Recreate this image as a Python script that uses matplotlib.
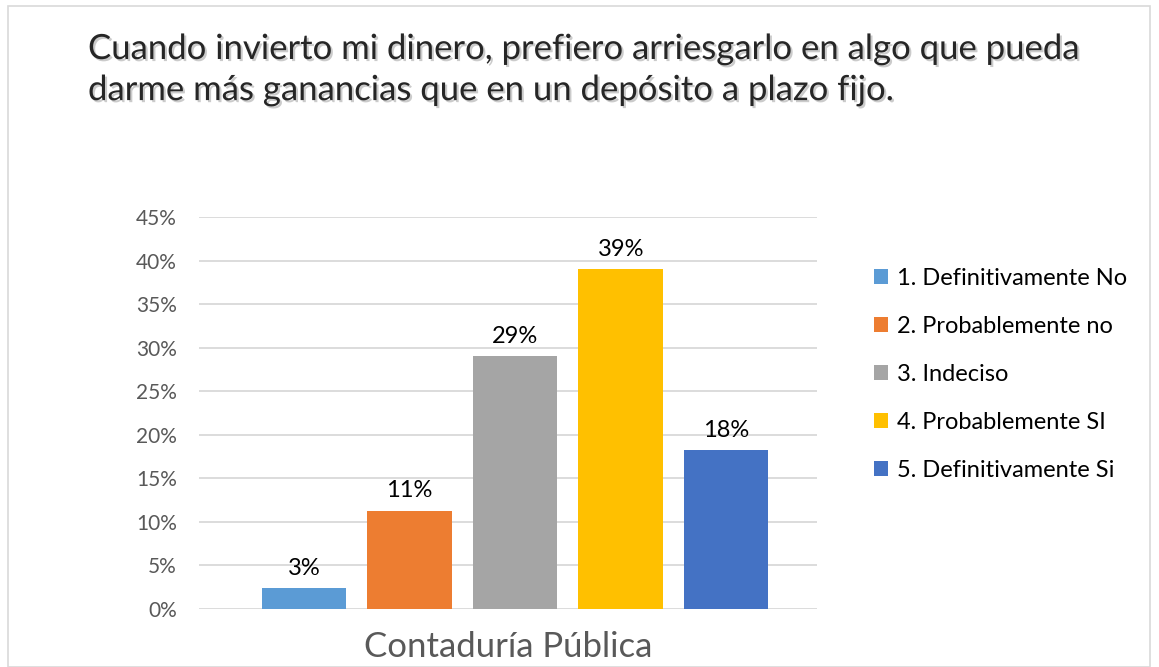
import matplotlib
matplotlib.use('Agg')
import matplotlib.pyplot as plt
import matplotlib.patheffects as pe
from matplotlib.patches import Rectangle, Patch

# data
categories = ["1. Definitivamente No", "2. Probablemente no", "3. Indeciso",
              "4. Probablemente SI", "5. Definitivamente Si"]
values = [0.024, 0.1125, 0.29, 0.39, 0.182]
labels = ["3%", "11%", "29%", "39%", "18%"]
colors = ["#5B9BD5", "#ED7D31", "#A5A5A5", "#FFC000", "#4472C4"]
yticks = [0, 0.05, 0.10, 0.15, 0.20, 0.25, 0.30, 0.35, 0.40, 0.45]
title = ("Cuando invierto mi dinero, prefiero arriesgarlo en algo que pueda\n"
         "darme más ganancias que en un depósito a plazo fijo.")
group = "Contaduría Pública"

plt.rcParams['font.family'] = ['Lato', 'DejaVu Sans']

W, H = 1159, 667
fig = plt.figure(figsize=(W / 100, H / 100), dpi=100)

# light frame around the chart
fig.patches.append(Rectangle((8 / W, 0), (1150 - 8) / W, (667 - 6) / H,
                             transform=fig.transFigure, fill=False,
                             edgecolor="#D9D9D9", linewidth=1.2))

ax = fig.add_axes([199 / W, (H - 609) / H, (817 - 199) / W, (609 - 217) / H])
x = range(len(values))
bars = ax.bar(x, values, width=0.8, color=colors, zorder=3)
for b, lab in zip(bars, labels):
    ax.text(b.get_x() + b.get_width() / 2, b.get_height() + 0.011, lab,
            ha="center", va="bottom", fontsize=17, color="#000000")

ax.set_ylim(0, 0.45)
ax.set_xlim(-0.995, 4.86)
ax.set_yticks(yticks)
ax.set_yticklabels([f"{int(round(t * 100))}%" for t in yticks],
                   fontsize=15, color="#595959")
ax.set_xticks([])
ax.tick_params(axis="y", length=0, pad=16)
ax.grid(axis="y", color="#D9D9D9", linewidth=1.3, zorder=0)
for s in ax.spines.values():
    s.set_visible(False)
ax.set_xlabel(group, fontsize=25, color="#595959", labelpad=16)

fig.text(88 / W, 1 - 33 / H, title, ha="left", va="top", fontsize=25,
         color="#262626", linespacing=1.35,
         path_effects=[pe.withSimplePatchShadow(offset=(1.5, -1.5),
                                                shadow_rgbFace="#999999",
                                                alpha=0.5)])

handles = [Patch(facecolor=c) for c in colors]
fig.legend(handles, categories, loc="upper left",
           bbox_to_anchor=(853 / W, 1 - 247 / H), frameon=False,
           fontsize=17, handlelength=0.6, handleheight=0.6,
           handletextpad=0.35, labelspacing=1.14, labelcolor="#000000")

fig.savefig("out.png", dpi=100)
